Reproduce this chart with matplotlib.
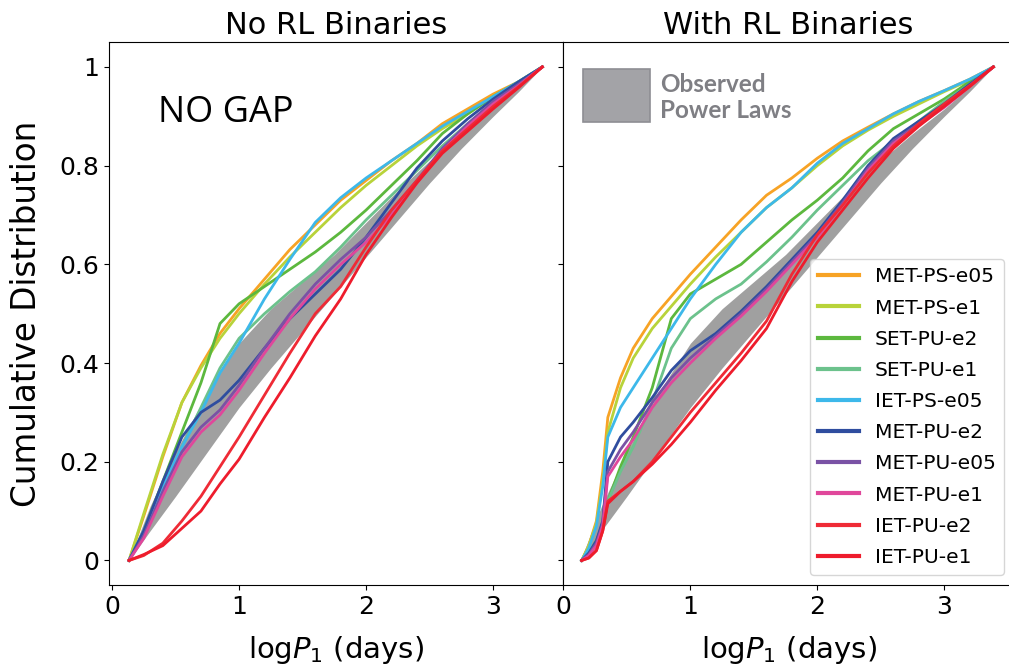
import matplotlib
matplotlib.use("Agg")
import matplotlib.pyplot as plt
from matplotlib.patches import Rectangle

# ---- data ----
labels = ["MET-PS-e05", "MET-PS-e1", "SET-PU-e2", "SET-PU-e1", "IET-PS-e05",
          "MET-PU-e2", "MET-PU-e05", "MET-PU-e1", "IET-PU-e2", "IET-PU-e1"]
colors = ["#f7a325", "#b8d33a", "#5cb83e", "#6cc28c", "#3db8ea",
          "#2f4d9f", "#7a52a5", "#e0479b", "#ef2b36", "#ee1c2c"]

# observed power-law band (shared by both panels)
band_x = [0.134, 0.3, 0.5, 0.75, 1.0, 1.25, 1.5, 1.75, 2.0, 2.25, 2.5, 2.75, 3.0, 3.2, 3.387]
band_lo = [0, 0.06, 0.13, 0.22, 0.31, 0.39, 0.465, 0.54, 0.615, 0.69, 0.765, 0.835, 0.9, 0.95, 1.0]
band_hi = [0, 0.11, 0.22, 0.34, 0.44, 0.51, 0.565, 0.62, 0.685, 0.75, 0.81, 0.865, 0.915, 0.96, 1.0]

# left panel: no RL binaries
x_norl = [0.134, 0.25, 0.4, 0.55, 0.7, 0.85, 1.0, 1.2, 1.4, 1.6, 1.8, 2.0, 2.2, 2.4, 2.6, 2.8, 3.0, 3.2, 3.387]
norl_met_ps_e05 = [0, 0.09, 0.21, 0.32, 0.395, 0.46, 0.51, 0.57, 0.63, 0.68, 0.73, 0.77, 0.81, 0.845, 0.885, 0.915, 0.945, 0.97, 1.0]
norl_met_ps_e1 = [0, 0.095, 0.215, 0.32, 0.39, 0.45, 0.5, 0.56, 0.615, 0.665, 0.715, 0.76, 0.8, 0.84, 0.875, 0.905, 0.94, 0.968, 1.0]
norl_set_pu_e2 = [0, 0.06, 0.16, 0.26, 0.36, 0.48, 0.52, 0.555, 0.59, 0.625, 0.665, 0.71, 0.76, 0.81, 0.865, 0.905, 0.94, 0.97, 1.0]
norl_set_pu_e1 = [0, 0.05, 0.14, 0.23, 0.31, 0.39, 0.45, 0.5, 0.545, 0.585, 0.635, 0.69, 0.74, 0.79, 0.84, 0.885, 0.925, 0.965, 1.0]
norl_iet_ps_e05 = [0, 0.06, 0.15, 0.23, 0.30, 0.38, 0.44, 0.53, 0.61, 0.685, 0.735, 0.775, 0.81, 0.845, 0.88, 0.91, 0.94, 0.97, 1.0]
norl_met_pu_e2 = [0, 0.06, 0.16, 0.25, 0.3, 0.325, 0.365, 0.43, 0.49, 0.54, 0.59, 0.655, 0.725, 0.795, 0.85, 0.895, 0.935, 0.97, 1.0]
norl_met_pu_e05 = [0, 0.05, 0.14, 0.22, 0.27, 0.305, 0.355, 0.43, 0.5, 0.56, 0.61, 0.655, 0.71, 0.77, 0.835, 0.885, 0.93, 0.965, 1.0]
norl_met_pu_e1 = [0, 0.045, 0.13, 0.21, 0.26, 0.295, 0.345, 0.42, 0.49, 0.55, 0.6, 0.645, 0.7, 0.765, 0.83, 0.88, 0.925, 0.962, 1.0]
norl_iet_pu_e2 = [0, 0.01, 0.035, 0.08, 0.13, 0.19, 0.25, 0.335, 0.42, 0.5, 0.555, 0.635, 0.71, 0.77, 0.83, 0.875, 0.92, 0.96, 1.0]
norl_iet_pu_e1 = [0, 0.012, 0.03, 0.065, 0.1, 0.155, 0.205, 0.29, 0.37, 0.455, 0.53, 0.62, 0.695, 0.765, 0.825, 0.87, 0.915, 0.958, 1.0]

# right panel: with RL binaries
x_rl = [0.144, 0.2, 0.26, 0.31, 0.35, 0.45, 0.55, 0.7, 0.85, 1.0, 1.2, 1.4, 1.6, 1.8, 2.0, 2.2, 2.4, 2.6, 2.8, 3.0, 3.2, 3.387]
rl_met_ps_e05 = [0, 0.03, 0.08, 0.18, 0.29, 0.37, 0.43, 0.49, 0.535, 0.58, 0.635, 0.69, 0.74, 0.775, 0.815, 0.85, 0.878, 0.905, 0.93, 0.952, 0.975, 1.0]
rl_met_ps_e1 = [0, 0.03, 0.075, 0.16, 0.26, 0.35, 0.41, 0.47, 0.515, 0.56, 0.615, 0.665, 0.715, 0.755, 0.8, 0.84, 0.872, 0.9, 0.925, 0.95, 0.973, 1.0]
rl_set_pu_e2 = [0, 0.015, 0.04, 0.07, 0.12, 0.19, 0.25, 0.35, 0.49, 0.54, 0.57, 0.6, 0.645, 0.69, 0.73, 0.775, 0.83, 0.875, 0.905, 0.935, 0.97, 1.0]
rl_set_pu_e1 = [0, 0.015, 0.04, 0.07, 0.12, 0.18, 0.23, 0.32, 0.43, 0.49, 0.53, 0.56, 0.605, 0.655, 0.71, 0.76, 0.81, 0.85, 0.89, 0.93, 0.965, 1.0]
rl_iet_ps_e05 = [0, 0.025, 0.07, 0.15, 0.25, 0.31, 0.35, 0.41, 0.47, 0.53, 0.6, 0.665, 0.715, 0.755, 0.805, 0.845, 0.875, 0.905, 0.93, 0.952, 0.975, 1.0]
rl_met_pu_e2 = [0, 0.015, 0.04, 0.08, 0.2, 0.25, 0.28, 0.33, 0.385, 0.425, 0.46, 0.505, 0.555, 0.61, 0.665, 0.73, 0.8, 0.855, 0.89, 0.925, 0.965, 1.0]
rl_met_pu_e05 = [0, 0.012, 0.035, 0.075, 0.18, 0.225, 0.26, 0.32, 0.37, 0.41, 0.455, 0.5, 0.55, 0.605, 0.66, 0.725, 0.795, 0.85, 0.885, 0.92, 0.962, 1.0]
rl_met_pu_e1 = [0, 0.01, 0.03, 0.07, 0.17, 0.21, 0.245, 0.31, 0.36, 0.4, 0.45, 0.495, 0.545, 0.6, 0.655, 0.72, 0.79, 0.845, 0.882, 0.918, 0.96, 1.0]
rl_iet_pu_e2 = [0, 0.005, 0.02, 0.06, 0.12, 0.14, 0.16, 0.2, 0.25, 0.3, 0.36, 0.42, 0.485, 0.58, 0.66, 0.72, 0.785, 0.84, 0.885, 0.925, 0.962, 1.0]
rl_iet_pu_e1 = [0, 0.005, 0.02, 0.06, 0.115, 0.14, 0.16, 0.195, 0.235, 0.28, 0.345, 0.405, 0.47, 0.565, 0.645, 0.71, 0.775, 0.835, 0.88, 0.92, 0.96, 1.0]

norl_curves = [norl_met_ps_e05, norl_met_ps_e1, norl_set_pu_e2, norl_set_pu_e1, norl_iet_ps_e05,
               norl_met_pu_e2, norl_met_pu_e05, norl_met_pu_e1, norl_iet_pu_e2, norl_iet_pu_e1]
rl_curves = [rl_met_ps_e05, rl_met_ps_e1, rl_set_pu_e2, rl_set_pu_e1, rl_iet_ps_e05,
             rl_met_pu_e2, rl_met_pu_e05, rl_met_pu_e1, rl_iet_pu_e2, rl_iet_pu_e1]

xticks = [0, 1, 2, 3]
yticks = [0, 0.2, 0.4, 0.6, 0.8, 1.0]
ytick_labels = ["0", "0.2", "0.4", "0.6", "0.8", "1"]

# ---- figure ----
fig = plt.figure(figsize=(10.09, 6.71), dpi=100)
ax1 = fig.add_axes([0.108, 0.128, 0.45, 0.809])
ax2 = fig.add_axes([0.558, 0.128, 0.447, 0.809], sharey=ax1)

band_color = "#a0a0a0"
for ax, xs, curves in [(ax1, x_norl, norl_curves), (ax2, x_rl, rl_curves)]:
    ax.fill_between(band_x, band_lo, band_hi, color=band_color, lw=0)
    for ys, c, lab in zip(curves, colors, labels):
        ax.plot(xs, ys, color=c, lw=2.0, label=lab)
    ax.set_xticks(xticks)
    ax.tick_params(labelsize=18)
    ax.set_xlabel(r"$\mathrm{log}P_1$ (days)", fontsize=21, labelpad=11)

ax1.set_xlim(-0.024, 3.55)
ax2.set_xlim(-0.003, 3.55)
ax1.set_ylim(-0.05, 1.05)
ax1.set_yticks(yticks)
ax1.set_yticklabels(ytick_labels)
ax2.tick_params(labelleft=False)

ax1.set_ylabel("Cumulative Distribution", fontsize=23.5, labelpad=12)
ax1.set_title("No RL Binaries", fontsize=22)
ax2.set_title("With RL Binaries", fontsize=22)

ax1.text(0.108, 0.853, "NO GAP", transform=ax1.transAxes, fontsize=26,
         family=["Open Sans", "DejaVu Sans"], va="baseline", ha="left")

leg = ax2.legend(loc="lower right", fontsize=14.6, labelspacing=0.6,
                 handlelength=2.0, fancybox=True)
for h in leg.get_lines():
    h.set_linewidth(3)

# key for the observed band
ax2.add_patch(Rectangle((0.0443, 0.853), 0.1486, 0.0976, transform=ax2.transAxes,
                        facecolor="#a3a3a7", edgecolor="#8e8e93", lw=1.2, clip_on=False))
key_font = dict(family=["Lato", "DejaVu Sans"], weight="bold",
                size=17.5, color="#7f7f84", transform=ax2.transAxes, va="baseline")
ax2.text(0.215, 0.9084, "Observed", **key_font)
ax2.text(0.215, 0.8605, "Power Laws", **key_font)

fig.savefig("out.png", dpi=100)
